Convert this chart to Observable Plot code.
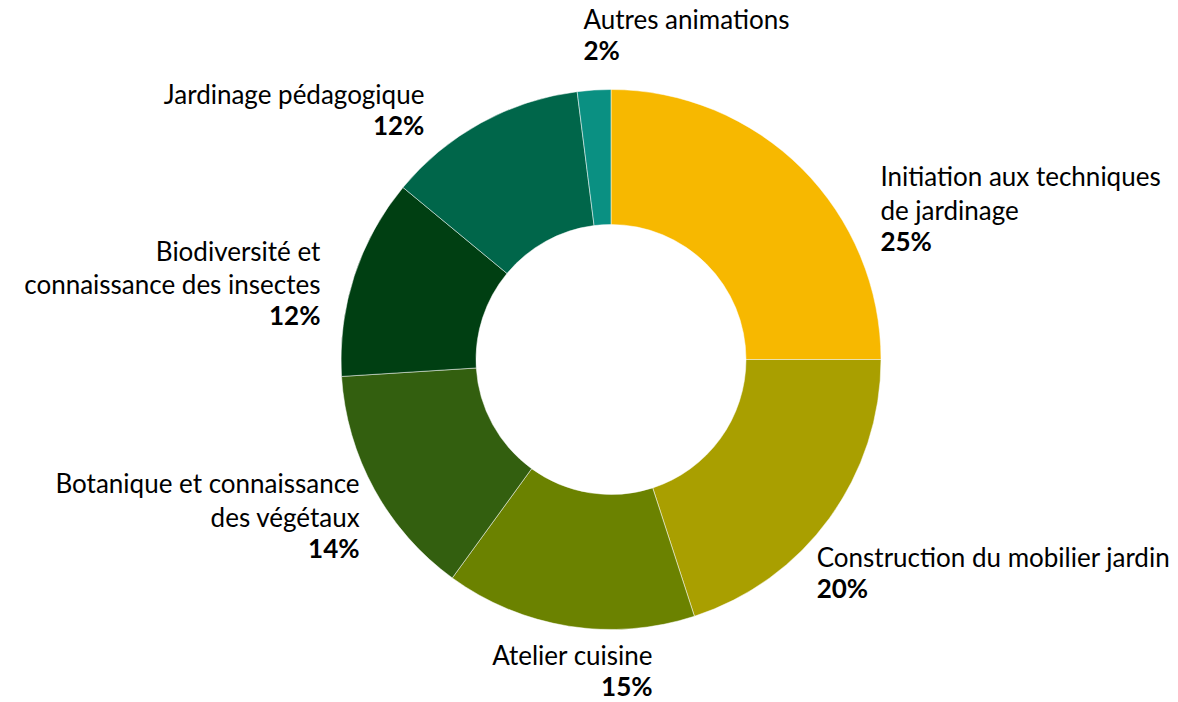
<!DOCTYPE html>
<html>
<head>
<meta charset="utf-8">
<script src="https://cdn.jsdelivr.net/npm/d3@7"></script>
<script src="https://cdn.jsdelivr.net/npm/@observablehq/plot@0.6"></script>
<style>
  html, body { margin: 0; padding: 0; background: #fff; }
  #chart { width: 1178px; height: 702px; }
</style>
</head>
<body>
<div id="chart"></div>
<script>
// ---- Data ----
const categories = [
  "Initiation aux techniques de jardinage",
  "Construction du mobilier jardin",
  "Atelier cuisine",
  "Botanique et connaissance des végétaux",
  "Biodiversité et connaissance des insectes",
  "Jardinage pédagogique",
  "Autres animations"
];
const shares = [25, 20, 15, 14, 12, 12, 2];
const colors = ["#F7B800", "#A99F00", "#6B8200", "#335F0F", "#003F12", "#00664A", "#0A9082"];
// label text, wrapped as in the original
const labelLines = [
  ["Initiation aux techniques", "de jardinage"],
  ["Construction du mobilier jardin"],
  ["Atelier cuisine"],
  ["Botanique et connaissance", "des végétaux"],
  ["Biodiversité et", "connaissance des insectes"],
  ["Jardinage pédagogique"],
  ["Autres animations"]
];

// ---- Layout (not data) ----
const W = 1178, H = 702;
const cx = 611, cy = 359.5, outerR = 270, innerR = 135;
const lineH = 33.5, fontSize = 26, font = "Lato, 'Open Sans', sans-serif";
// label anchor position relative to the centre, in units of the outer radius, and text alignment
const labelLayout = [
  {dx: 0.996, dy: -0.560, anchor: "start"},
  {dx: 0.760, dy: 0.790, anchor: "start"},
  {dx: 0.152, dy: 1.152, anchor: "end"},
  {dx: -0.933, dy: 0.578, anchor: "end"},
  {dx: -1.078, dy: -0.283, anchor: "end"},
  {dx: -0.693, dy: -0.925, anchor: "end"},
  {dx: -0.104, dy: -1.205, anchor: "start"}
];

const rows = categories.map((c, i) => {
  const L = labelLayout[i];
  const n = labelLines[i].length + 1;
  const ay = cy + L.dy * outerR;
  return {
    category: c,
    share: shares[i],
    color: colors[i],
    anchor: L.anchor,
    x: cx + L.dx * outerR,
    yName: ay - lineH / 2,
    yPct: ay + (n - 1) / 2 * lineH,
    name: labelLines[i].join("\n"),
    pct: shares[i] + "%"
  };
});

const pie = d3.pie().value(d => d.share).sort(null).startAngle(0).endAngle(2 * Math.PI);
const arcs = pie(rows);
const arcGen = d3.arc().innerRadius(innerR).outerRadius(outerR);

function donut(index, scales) {
  const g = d3.create("svg:g")
    .attr("transform", `translate(${scales.x(cx)},${scales.y(cy)})`);
  g.selectAll("path")
    .data(arcs)
    .join("path")
    .attr("d", arcGen)
    .attr("fill", d => d.data.color)
    .attr("stroke", "#fff")
    .attr("stroke-width", 0.5);
  return g.node();
}

const textMarks = [];
for (const a of ["start", "middle", "end"]) {
  const sub = rows.filter(r => r.anchor === a);
  if (!sub.length) continue;
  textMarks.push(
    Plot.text(sub, {x: "x", y: "yName", text: "name", textAnchor: a, lineAnchor: "middle",
      lineHeight: lineH / fontSize, fontSize, fontFamily: font, fill: "#000"}),
    Plot.text(sub, {x: "x", y: "yPct", text: "pct", textAnchor: a, lineAnchor: "middle",
      fontSize, fontFamily: font, fontWeight: "bold", fill: "#000"})
  );
}

const chart = Plot.plot({
  width: W,
  height: H,
  margin: 0,
  x: {type: "identity", axis: null},
  y: {type: "identity", axis: null},
  style: {background: "#fff"},
  marks: [donut, ...textMarks]
});
document.getElementById("chart").appendChild(chart);
</script>
</body>
</html>
